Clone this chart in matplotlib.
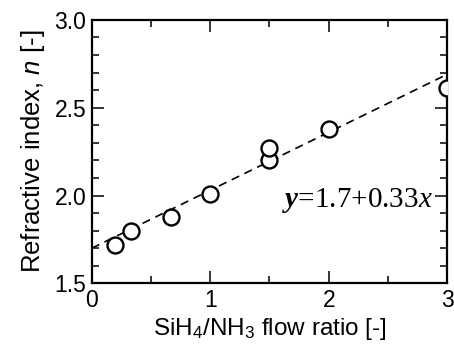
import matplotlib
matplotlib.use("Agg")
import matplotlib.pyplot as plt
from matplotlib.ticker import MultipleLocator

plt.rcParams["font.family"] = "Liberation Sans"
plt.rcParams["mathtext.fontset"] = "custom"
plt.rcParams["mathtext.rm"] = "Liberation Serif"
plt.rcParams["mathtext.it"] = "Liberation Sans:italic"
plt.rcParams["mathtext.bf"] = "Liberation Serif:bold:italic"
plt.rcParams["mathtext.sf"] = "Liberation Serif:italic"

# measured data
flow_ratio = [0.2, 0.33, 0.67, 1.0, 1.5, 1.5, 2.0, 3.0]
refr_index = [1.72, 1.80, 1.88, 2.01, 2.20, 2.27, 2.38, 2.61]

# linear fit y = a + b x
fit_a = 1.7
fit_b = 0.33
fit_x = [0.0, 3.0]
fit_y = [fit_a + fit_b * x for x in fit_x]

fig = plt.figure(figsize=(4.54, 3.49), dpi=100)
ax = fig.add_axes([0.202, 0.188, 0.783, 0.755])

ax.plot(fit_x, fit_y, color="black", linestyle=(0, (5, 3.5)), linewidth=1.2, zorder=2)
ax.plot(flow_ratio, refr_index, linestyle="none", marker="o", markersize=11.5,
        markerfacecolor="white", markeredgecolor="black", markeredgewidth=1.7, zorder=3)

ax.text(2.88, 1.935, r"$\mathbf{y}$=1.7+0.33$\mathsf{x}$", family="Liberation Serif",
        fontsize=21, ha="right", va="baseline")

ax.set_xlim(0, 3)
ax.set_ylim(1.5, 3.0)
ax.xaxis.set_major_locator(MultipleLocator(1))
ax.xaxis.set_minor_locator(MultipleLocator(0.5))
ax.yaxis.set_major_locator(MultipleLocator(0.5))
ax.yaxis.set_minor_locator(MultipleLocator(0.1))
ax.yaxis.set_major_formatter(matplotlib.ticker.FormatStrFormatter("%.1f"))

ax.tick_params(which="both", direction="in", top=True, right=True, width=1.1,
               labelsize=16.5, pad=4)
ax.tick_params(which="major", length=8.5)
ax.tick_params(which="minor", length=5)
for s in ax.spines.values():
    s.set_linewidth(1.6)

ax.set_xlabel(r"SiH$\mathregular{_4}$/NH$\mathregular{_3}$ flow ratio [-]", fontsize=17.5, labelpad=3)
ax.set_ylabel(r"Refractive index, $\mathit{n}$ [-]", fontsize=18.5, labelpad=5)

fig.savefig("out.png", dpi=100)
